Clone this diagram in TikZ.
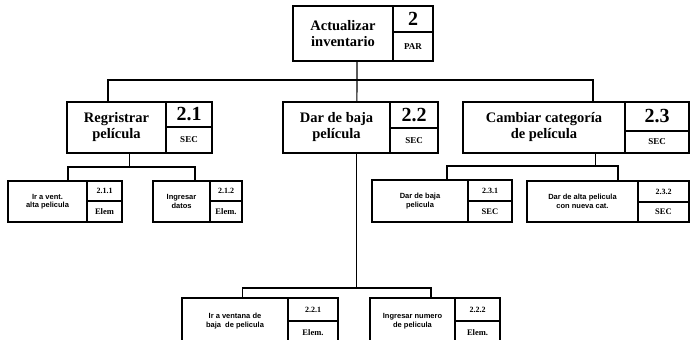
\documentclass[tikz,border=0pt]{standalone}
\usepackage{fontspec}
\setmainfont{Liberation Serif}
\newfontfamily\boxsans{Liberation Sans}
\usetikzlibrary{fit,calc}
\tikzset{
  frame/.style={draw, line width=1.4pt, inner sep=0pt, outer sep=0pt},
  rule/.style={line width=1.1pt},
  link/.style={line width=1.1pt},
  bigtitle/.style={font=\bfseries\fontsize{14.5}{16}\selectfont, align=center, inner sep=0pt},
  bigcode/.style={font=\bfseries\fontsize{20}{20}\selectfont, inner sep=0pt},
  bigtype/.style={font=\bfseries\fontsize{9}{9}\selectfont, inner sep=0pt},
  smalltitle/.style={font=\boxsans\bfseries\fontsize{7.5}{8.5}\selectfont, align=center, inner sep=0pt},
  smallcode/.style={font=\bfseries\fontsize{8}{8}\selectfont, inner sep=0pt},
  smalltype/.style={font=\bfseries\fontsize{8.5}{8.5}\selectfont, inner sep=0pt},
}
% #1 name, #2-#5 left/top/right/bottom, #6 divider x, #7 divider y, #8 size, #9 title
\newcommand\procbox[9]{%
  \node[frame, fit={(#2,#3) (#4,#5)}] (#1) {};
  \draw[rule] (#6,#3) -- (#6,#5) (#6,#7) -- (#4,#7);
  \node[#8title] (#1-t) at ({(#2+#6)/2},{(#3+#5)/2}) {#9};
  \coordinate (#1-cc) at ({(#6+#4)/2},{(#3+#7)/2});
  \coordinate (#1-kc) at ({(#6+#4)/2},{(#7+#5)/2});
}
% #1 name, #2 size, #3 number, #4 kind
\newcommand\proclabels[4]{%
  \node[#2code] (#1-c) at (#1-cc) {#3};
  \node[#2type] (#1-k) at (#1-kc) {#4};
}
\begin{document}
\begin{tikzpicture}[x=1pt,y=-1pt]
\useasboundingbox (0,0) rectangle (691,340);
\clip (0,0) rectangle (691,340);

% level 0
\procbox{b2}{293}{6}{433}{61}{393}{32}{big}{Actualizar\\inventario}
\proclabels{b2}{big}{2}{PAR}

% level 1
\procbox{b21}{67}{102}{212}{153}{166}{127}{big}{Regristrar\\película}
\proclabels{b21}{big}{2.1}{SEC}
\procbox{b22}{283}{102}{438}{153}{390}{128}{big}{Dar de baja\\película}
\proclabels{b22}{big}{2.2}{SEC}
\procbox{b23}{463}{102}{689}{153}{625}{131}{big}{Cambiar categoría\\de película}
\proclabels{b23}{big}{2.3}{SEC}

% level 2
\procbox{b211}{8}{181}{122}{222}{87}{201}{small}{Ir a vent.\\alta pelicula}
\proclabels{b211}{small}{2.1.1}{Elem}
\procbox{b212}{153}{181}{242}{222}{210}{201}{small}{Ingresar\\datos}
\proclabels{b212}{small}{2.1.2}{Elem.}
\procbox{b231}{372}{180}{512}{222}{468}{201}{small}{Dar de baja\\pelicula}
\proclabels{b231}{small}{2.3.1}{SEC}
\procbox{b232}{527}{181}{689}{222}{638}{202}{small}{Dar de alta pelicula\\con nueva cat.}
\proclabels{b232}{small}{2.3.2}{SEC}
\procbox{b221}{182}{298}{338}{344}{288}{321}{small}{Ir a ventana de\\baja \ de pelicula}
\proclabels{b221}{small}{2.2.1}{Elem.}
\procbox{b222}{370}{298}{500}{344}{455}{321}{small}{Ingresar numero\\de pelicula}
\proclabels{b222}{small}{2.2.2}{Elem.}

% attachment points
\coordinate (o2)   at ($(b2.south west)!.457!(b2.south east)$);
\coordinate (i21)  at ($(b21.north west)!.283!(b21.north east)$);
\coordinate (o21)  at ($(b21.south west)!.434!(b21.south east)$);
\coordinate (i22)  at ($(b22.north west)!.477!(b22.north east)$);
\coordinate (o22)  at ($(b22.south west)!.477!(b22.south east)$);
\coordinate (i23)  at ($(b23.north west)!.575!(b23.north east)$);
\coordinate (o23)  at ($(b23.south west)!.588!(b23.south east)$);
\coordinate (i211) at ($(b211.north west)!.526!(b211.north east)$);
\coordinate (i212) at ($(b212.north west)!.472!(b212.north east)$);
\coordinate (i231) at ($(b231.north west)!.536!(b231.north east)$);
\coordinate (i232) at ($(b232.north west)!.562!(b232.north east)$);
\coordinate (i221) at ($(b221.north west)!.385!(b221.north east)$);
\coordinate (i222) at ($(b222.north west)!.469!(b222.north east)$);

% bus junctions
\coordinate (bus2)  at ($(o2)+(0,19)$);
\coordinate (bus21) at ($(o21)+(0,14)$);
\coordinate (bus22) at ($(o22)+(0,135)$);
\coordinate (bus23) at ($(o23)+(0,13)$);

% connectors
\draw[link] (o2) -- (i22);
\draw[link] (i21) |- (bus2) -| (i23);
\draw[link] (o21) -- (bus21);
\draw[link] (i211) |- (bus21) -| (i212);
\draw[link] (o22) -- (bus22);
\draw[link] (i221) |- (bus22) -| (i222);
\draw[link] (o23) -- (bus23);
\draw[link] (i231) |- (bus23) -| (i232);
\end{tikzpicture}
\end{document}
